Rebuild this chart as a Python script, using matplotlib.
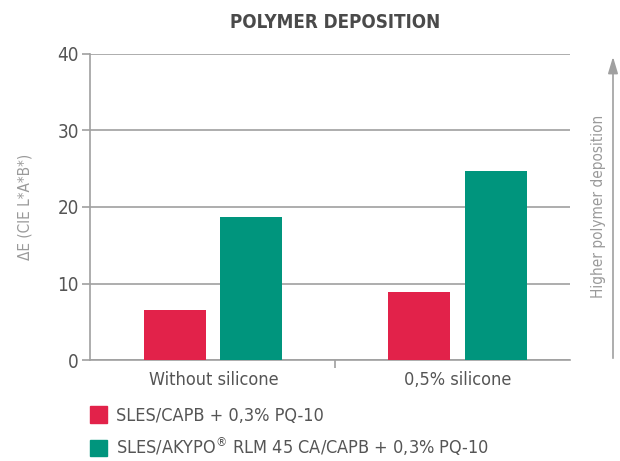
import matplotlib
matplotlib.use("Agg")
import matplotlib.pyplot as plt
from matplotlib.patches import Patch, FancyArrowPatch

plt.rcParams['font.family'] = ['DejaVu Sans']
plt.rcParams['font.stretch'] = 'condensed'
plt.rcParams['mathtext.default'] = 'regular'

# ---------------------------------------------------
# Data
# ---------------------------------------------------
categories = ["Without silicone", "0,5% silicone"]
series_names = ["SLES/CAPB + 0,3% PQ-10",
                "SLES/AKYPO$^{\u00ae}$ RLM 45 CA/CAPB + 0,3% PQ-10"]
values_red = [6.5, 8.9]
values_green = [18.7, 24.7]
yticks = [0, 10, 20, 30, 40]

red = "#E2224A"
green = "#00957D"
grid_c = "#A0A0A0"
text_c = "#555555"

# ---------------------------------------------------
# Figure
# ---------------------------------------------------
fig = plt.figure(figsize=(6.2, 4.61), dpi=100)
ax = fig.add_axes([0.145, 0.219, 0.774, 0.664])

centers = [0.5, 1.5]
w = 0.254
off = 0.156
ax.bar([c - off for c in centers], values_red, width=w, color=red, zorder=3)
ax.bar([c + off for c in centers], values_green, width=w, color=green, zorder=3)

ax.set_xlim(-0.006, 1.96)
ax.set_ylim(0, 40)
ax.set_yticks(yticks)
ax.set_yticklabels([str(t) for t in yticks])
ax.yaxis.grid(True, color=grid_c, lw=1.2, zorder=0)
ax.tick_params(axis="y", length=6, color=grid_c, width=1.2,
               labelsize=13.5, labelcolor=text_c, pad=2)

ax.set_xticks([1.0])
ax.set_xticklabels([""])
ax.tick_params(axis="x", length=6, color=grid_c, width=1.2, direction="out")
for c, name in zip(centers, categories):
    ax.text(c, -1.4, name, ha="center", va="top", fontsize=13, color=text_c)

for s in ["top", "right"]:
    ax.spines[s].set_visible(False)
for s in ["left", "bottom"]:
    ax.spines[s].set_color(grid_c)
    ax.spines[s].set_linewidth(1.2)

ax.set_ylabel("\u0394E (CIE L*A*B*)", fontsize=11, color="#9A9A9A", labelpad=18)

fig.text(0.54, 0.952, "POLYMER DEPOSITION", ha="center", va="center",
         fontsize=13.5, fontweight="bold", color="#4A4A4A")

# right arrow
fig.patches.append(FancyArrowPatch(
    (613 / 620, 1 - 361 / 461), (613 / 620, 1 - 54 / 461),
    transform=fig.transFigure,
    arrowstyle="-|>,head_length=1.0,head_width=0.3",
    color="#A0A0A0", lw=1.2, mutation_scale=10))
fig.text(598 / 620, 1 - 206 / 461, "Higher polymer deposition", rotation=90,
         ha="center", va="center", fontsize=11, color="#9A9A9A")

# legend
handles = [Patch(color=red), Patch(color=green)]
fig.legend(handles, series_names, loc="upper left",
           bbox_to_anchor=(0.134, 0.134), frameon=False,
           fontsize=13, labelcolor=text_c, handlelength=0.95, handleheight=1.0,
           handletextpad=0.5, labelspacing=0.6, borderaxespad=0)

fig.savefig("out.png", dpi=100)
